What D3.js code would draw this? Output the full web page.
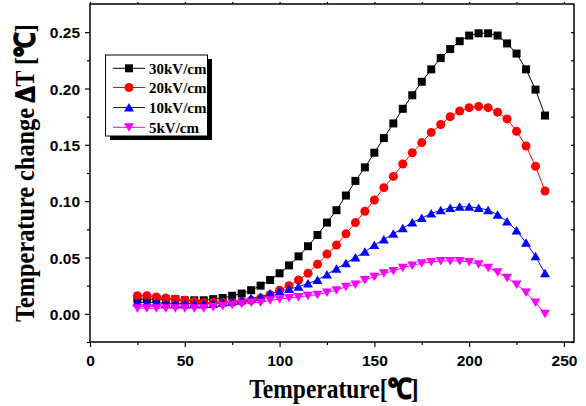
<!DOCTYPE html>
<html><head><meta charset="utf-8">
<script src="https://cdn.jsdelivr.net/npm/d3@7"></script>
<style>body{margin:0;background:#fff}svg{display:block}</style>
</head><body>
<svg id="c" width="586" height="406"></svg>
<script>
const temps = d3.range(25, 241, 5);
const s30 = [0.013,0.013,0.013,0.013,0.013,0.012,0.012,0.012,0.013,0.014,0.016,0.018,0.021,0.025,0.030,0.036,0.043,0.051,0.060,0.070,0.081,0.092,0.105,0.118,0.130,0.143,0.156,0.169,0.182,0.194,0.206,0.217,0.227,0.235,0.242,0.247,0.249,0.249,0.247,0.240,0.231,0.217,0.199,0.176];
const s20 = [0.016,0.016,0.015,0.014,0.013,0.012,0.011,0.010,0.010,0.010,0.010,0.011,0.012,0.014,0.017,0.021,0.025,0.030,0.036,0.044,0.053,0.061,0.071,0.081,0.091,0.101,0.112,0.122,0.133,0.143,0.152,0.161,0.168,0.175,0.180,0.183,0.184,0.183,0.179,0.173,0.162,0.149,0.131,0.109];
const s10 = [0.010,0.010,0.010,0.009,0.009,0.009,0.009,0.009,0.009,0.010,0.011,0.012,0.014,0.015,0.018,0.020,0.022,0.024,0.027,0.030,0.035,0.040,0.045,0.050,0.055,0.061,0.066,0.071,0.076,0.081,0.085,0.089,0.092,0.094,0.095,0.095,0.094,0.092,0.088,0.082,0.074,0.063,0.051,0.036];
const s5 = [0.005,0.005,0.005,0.005,0.005,0.005,0.005,0.005,0.006,0.007,0.008,0.009,0.010,0.010,0.012,0.013,0.014,0.015,0.016,0.017,0.019,0.021,0.024,0.026,0.030,0.033,0.036,0.038,0.041,0.043,0.045,0.046,0.047,0.047,0.047,0.046,0.044,0.041,0.037,0.032,0.026,0.019,0.010,0.000];
const seriesNames = ["30kV/cm","20kV/cm","10kV/cm","5kV/cm"];
const seriesColors = ["#000000","#ff0000","#0000ff","#ff00ff"];
const seriesShapes = ["square","circle","up","down"];
const xTicks = [0,50,100,150,200,250];
const yTicks = [0,0.05,0.10,0.15,0.20,0.25];

const svg = d3.select("#c");
const L=90,R=574,T=4,B=342;
const x = d3.scaleLinear().domain([0,255.3]).range([L,R]);
const y = d3.scaleLinear().domain([-0.025,0.275]).range([B,T]);
const allSeries=[s30,s20,s10,s5];

function marker(g, shape, color){
  if(shape==="square") g.append("rect").attr("x",-4).attr("y",-4).attr("width",8).attr("height",8).attr("fill",color);
  else if(shape==="circle") g.append("circle").attr("r",4.5).attr("fill",color);
  else if(shape==="up") g.append("path").attr("d","M0,-4.5L5,4L-5,4Z").attr("fill",color);
  else g.append("path").attr("d","M0,4.5L5,-4L-5,-4Z").attr("fill",color);
}

const line = d3.line().x((d,i)=>x(temps[i])).y(d=>y(d));
allSeries.forEach((s,k)=>{
  svg.append("path").datum(s).attr("d",line).attr("fill","none").attr("stroke",seriesColors[k]).attr("stroke-width",1);
});
allSeries.forEach((s,k)=>{
  s.forEach((v,i)=>{
    const g=svg.append("g").attr("transform",`translate(${x(temps[i])},${y(v)})`);
    marker(g,seriesShapes[k],seriesColors[k]);
  });
});

// axes
const fmt = d3.format(".2f");
const xAxis = svg.append("g").attr("transform",`translate(0,${B})`)
  .call(d3.axisBottom(x).tickValues(xTicks).tickSize(5).tickFormat(d3.format("d")));
const xMinor = svg.append("g").attr("transform",`translate(0,${B})`)
  .call(d3.axisBottom(x).tickValues([25,75,125,175,225]).tickSize(3).tickFormat(""));
const yAxis = svg.append("g").attr("transform",`translate(${L},0)`)
  .call(d3.axisLeft(y).tickValues(yTicks).tickSize(5).tickFormat(fmt));
const yMinor = svg.append("g").attr("transform",`translate(${L},0)`)
  .call(d3.axisLeft(y).tickValues([-0.025,0.025,0.075,0.125,0.175,0.225]).tickSize(3).tickFormat(""));
const xTop = svg.append("g").attr("transform",`translate(0,${T})`)
  .call(d3.axisTop(x).tickValues(d3.range(0,251,25)).tickSize(2).tickFormat(""));
const yRight = svg.append("g").attr("transform",`translate(${R},0)`)
  .call(d3.axisLeft(y).tickValues(d3.range(-0.025,0.27,0.025)).tickSize(3).tickFormat(""));
[xAxis,xMinor,yAxis,yMinor,xTop,yRight].forEach(a=>{
  a.select(".domain").remove();
  a.selectAll("line").attr("stroke","#000").attr("stroke-width",1.2);
});
svg.append("rect").attr("x",L).attr("y",T).attr("width",R-L).attr("height",B-T)
  .attr("fill","none").attr("stroke","#000").attr("stroke-width",1.5);
[xAxis,yAxis].forEach(a=>a.selectAll("text").attr("font-family","'Liberation Sans',Arial,sans-serif")
  .attr("font-weight","bold").attr("font-size","15.5px").attr("fill","#000"));
xAxis.selectAll("text").attr("dy","0").attr("y",24);
yAxis.selectAll("text").attr("x",-10).attr("dy","0.36em");

// titles
const serif="'Liberation Serif','Times New Roman',serif";
const xt = svg.append("g").attr("transform","translate(334,398) scale(0.87,1)")
  .append("text").attr("text-anchor","middle").attr("font-family",serif)
  .attr("font-weight","bold").attr("font-size","27px");
xt.append("tspan").text("Temperature[");
xt.append("tspan").attr("stroke","#000").attr("stroke-width",1.6).text("℃");
xt.append("tspan").text("]");
const yt = svg.append("g").attr("transform","translate(34,173) rotate(-90) scale(0.9,1)")
  .append("text").attr("text-anchor","middle").attr("font-family",serif)
  .attr("font-weight","bold").attr("font-size","27px");
yt.append("tspan").text("Temperature change ");
yt.append("tspan").attr("stroke","#000").attr("stroke-width",2).text("Δ");
yt.append("tspan").text("T [");
yt.append("tspan").attr("stroke","#000").attr("stroke-width",1.6).text("℃");
yt.append("tspan").text("]");

// legend
const lg = svg.append("g");
lg.append("rect").attr("x",110).attr("y",59).attr("width",102).attr("height",81).attr("fill","#000");
lg.append("rect").attr("x",105.5).attr("y",55).attr("width",102).attr("height",81).attr("fill","#fff").attr("stroke","#000").attr("stroke-width",1);
const rowY=[68.3,87.5,107.5,127.3];
seriesNames.forEach((n,k)=>{
  lg.append("line").attr("x1",113).attr("x2",145).attr("y1",rowY[k]).attr("y2",rowY[k]).attr("stroke",seriesColors[k]).attr("stroke-width",1);
  const g=lg.append("g").attr("transform",`translate(129,${rowY[k]})`);
  marker(g,seriesShapes[k],seriesColors[k]);
  lg.append("text").attr("x",149).attr("y",rowY[k]).attr("dy","0.35em")
    .attr("font-family",serif).attr("font-weight","bold")
    .attr("font-size","15px").text(n);
});
</script>
</body></html>
